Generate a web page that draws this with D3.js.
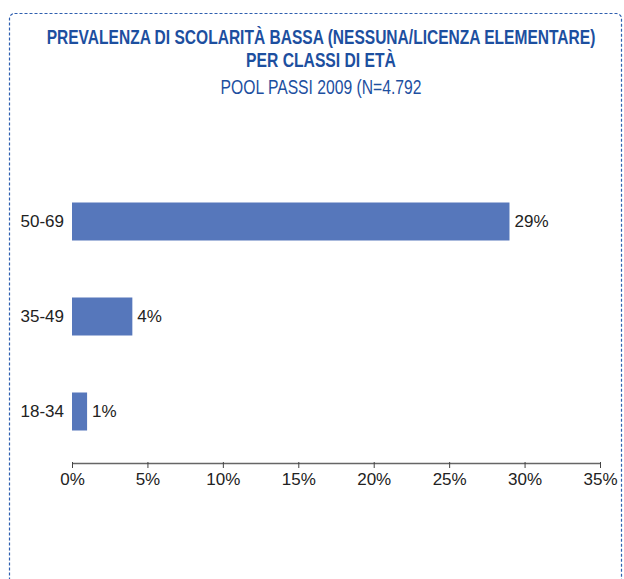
<!DOCTYPE html>
<html>
<head>
<meta charset="utf-8">
<script src="https://cdn.jsdelivr.net/npm/d3@7"></script>
<style>
	body { margin: 0; background: #fff; }
	#container { width: 624px; height: 579px; }
	text { font-family: "Liberation Sans", Arial, sans-serif; }
</style>
</head>
<body>
<div id="container"></div>
<script>
////////// DATA

var categories = ["50-69", "35-49", "18-34"]; // top to bottom
var values = [29, 4, 1]; // percent
var xTicks = [0, 5, 10, 15, 20, 25, 30, 35];
var titleLines = [
	"PREVALENZA DI SCOLARITÀ BASSA (NESSUNA/LICENZA ELEMENTARE)",
	"PER CLASSI DI ETÀ",
	"POOL PASSI 2009 (N=4.792"
];

////////// DRAWING

var gWidth = 624;
var gHeight = 579;
var blue = "#1d4f9f";
var barColor = "#5677bb";

var svg = d3.select("#container").append("svg")
	.attr("width", gWidth)
	.attr("height", gHeight);

// dashed frame (bottom goes off the page)
svg.append("rect")
	.attr("x", 9.5)
	.attr("y", 13.5)
	.attr("width", 612)
	.attr("height", 620)
	.attr("rx", 5)
	.attr("fill", "none")
	.attr("stroke", "#2f5fb0")
	.attr("stroke-width", 1.2)
	.attr("stroke-dasharray", "3,2");

// titles: squeezed horizontally to imitate the condensed face of the original
var titleSpec = [
	{ y: 44, size: 21, weight: "bold", len: 549 },
	{ y: 67, size: 21, weight: "bold", len: 150 },
	{ y: 94, size: 20, weight: "normal", len: 201 }
];
titleLines.forEach(function(t, i)
{
	var s = titleSpec[i];
	var txt = svg.append("text")
		.attr("text-anchor", "middle")
		.style("font-size", s.size + "px")
		.style("font-weight", s.weight)
		.style("fill", blue)
		.text(t);
	var sx = s.len / txt.node().getComputedTextLength();
	txt.attr("transform", "translate(321," + s.y + ") scale(" + sx + ",1)");
});

// scales
var x = d3.scaleLinear().domain([0, 35]).range([72, 600]);
var y = d3.scaleBand().domain(categories).range([174, 459])
	.paddingInner(0.6).paddingOuter(0.3);

// bars
svg.selectAll(".bar").data(values).enter().append("rect")
	.attr("class", "bar")
	.attr("x", x(0))
	.attr("y", function(d, i) { return y(categories[i]); })
	.attr("width", function(d) { return x(d) - x(0); })
	.attr("height", y.bandwidth())
	.attr("fill", barColor);

// value labels
svg.selectAll(".valLabel").data(values).enter().append("text")
	.attr("class", "valLabel")
	.attr("x", function(d) { return x(d) + 5; })
	.attr("y", function(d, i) { return y(categories[i]) + y.bandwidth() / 2; })
	.attr("dy", "0.35em")
	.style("font-size", "17px")
	.style("fill", "#222")
	.text(function(d) { return d + "%"; });

// category labels
svg.selectAll(".catLabel").data(categories).enter().append("text")
	.attr("class", "catLabel")
	.attr("x", 64)
	.attr("y", function(d) { return y(d) + y.bandwidth() / 2; })
	.attr("dy", "0.35em")
	.attr("text-anchor", "end")
	.style("font-size", "17px")
	.style("fill", "#222")
	.text(function(d) { return d; });

// x axis
var axis = svg.append("g")
	.attr("transform", "translate(0,463)")
	.call(d3.axisBottom(x).tickValues(xTicks).tickSizeInner(5).tickSizeOuter(0)
		.tickFormat(function(d) { return d + "%"; }));
axis.select(".domain").attr("stroke", "#666").attr("stroke-width", 1.3);
axis.selectAll(".tick line").attr("stroke", "#444").attr("y1", -1);
axis.selectAll(".tick text")
	.attr("y", 10)
	.style("font-size", "17px")
	.style("font-family", "'Liberation Sans', Arial, sans-serif")
	.style("fill", "#222");
</script>
</body>
</html>
